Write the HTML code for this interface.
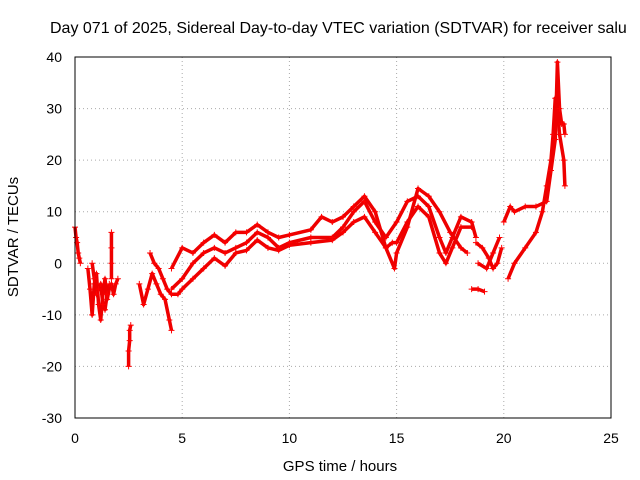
<!DOCTYPE html>
<html><head><meta charset="utf-8"><style>
body{margin:0;background:#fff}
svg{display:block;font-family:"Liberation Sans",sans-serif}
</style></head><body>
<svg id="chart" width="640" height="480">
<text x="50" y="33" font-size="16">Day 071 of 2025, Sidereal Day-to-day VTEC variation (SDTVAR) for receiver salu</text>
<g id="grid"></g><g id="ticks"></g><g id="series"></g>
<rect x="75" y="57" width="536" height="361" fill="none" stroke="#000"/>
<text x="340" y="471" font-size="15" text-anchor="middle">GPS time / hours</text>
<text x="18" y="237" font-size="15" text-anchor="middle" transform="rotate(-90 18 237)">SDTVAR / TECUs</text>
</svg>
<script>
const xTicks=[0,5,10,15,20,25];
const yTicks=[-30,-20,-10,0,10,20,30,40];
const track1=[[0,7],[0.05,5],[0.1,4],[0.15,2],[0.2,1],[0.25,0]];
const track2=[[0.6,-1],[0.7,-5],[0.8,-10],[0.9,-4],[1.0,-2],[1.1,-8],[1.2,-11],[1.3,-6],[1.4,-3],[1.5,-7],[1.6,-5],[1.7,-4],[1.8,-6],[1.9,-4],[2.0,-3]];
const track3=[[0.8,0],[0.9,-3],[1.0,-6],[1.1,-5],[1.2,-4],[1.3,-8],[1.4,-9],[1.5,-6],[1.6,-4]];
const track4=[[1.7,-3],[1.7,0],[1.7,3],[1.7,6]];
const track5=[[2.5,-20],[2.5,-17],[2.55,-15],[2.55,-13],[2.6,-12]];
const track6=[[3.0,-4],[3.2,-8],[3.4,-5],[3.6,-2],[3.8,-4],[4.0,-6],[4.2,-7],[4.4,-11],[4.5,-13]];
const track7=[[3.5,2],[3.7,0],[3.9,-1],[4.1,-3],[4.3,-5],[4.5,-6],[4.8,-6],[5.0,-5],[5.5,-3],[6.0,-1],[6.5,1],[7.0,-0.5],[7.5,2],[8.0,2.5],[8.5,4.5],[9.0,3],[9.5,2.5],[10,3.5],[11,4],[12,4.5],[12.5,6],[13,8],[13.5,9],[14,6],[14.5,3],[14.8,4],[15,4],[15.5,8],[16,11],[16.5,9],[17,2],[17.3,0],[17.6,3],[18,7],[18.5,7]];
const track8=[[4.5,-5],[5.0,-3],[5.5,0],[6.0,2],[6.5,3],[7.0,2],[7.5,3],[8.0,4],[8.5,6],[9.0,5],[9.5,3],[10,4],[11,5],[12,5],[12.5,7],[13,10],[13.5,12],[14,8],[14.5,5],[15,8],[15.5,12],[16,13],[16.5,11],[17,5],[17.3,2],[17.6,5],[18,9],[18.5,8],[18.7,5]];
const track9=[[4.5,-1],[5.0,3],[5.5,2],[6.0,4],[6.5,5.5],[7.0,4],[7.5,6],[8.0,6],[8.5,7.5],[9.0,6],[9.5,5],[10,5.5],[11,6.5],[11.5,9],[12,8],[12.5,9],[13,11],[13.5,13],[14,10],[14.5,3],[14.9,-1],[15,2],[15.5,7],[16,14.5],[16.5,13],[17,10],[17.5,6],[18,3],[18.3,2]];
const track10=[[18.5,-5],[18.8,-5],[19.1,-5.5]];
const track11=[[18.7,4],[19.0,3],[19.3,1],[19.5,-1],[19.7,0],[19.9,3]];
const track12=[[18.8,0],[19.2,-1],[19.5,2],[19.8,5]];
const track13=[[20.2,-3],[20.5,0],[21.0,3],[21.5,6],[21.8,10],[22.0,15],[22.2,20],[22.3,25],[22.4,32],[22.5,30],[22.6,25],[22.8,20],[22.85,15]];
const track14=[[20.0,8],[20.3,11],[20.5,10],[21.0,11],[21.5,11],[22.0,12],[22.2,18],[22.4,24],[22.5,39],[22.6,30],[22.7,27],[22.8,27],[22.85,25]];
const tracks=[track1,track2,track3,track4,track5,track6,track7,track8,track9,track10,track11,track12,track13,track14];
const X=t=>75+t*536/25, Y=v=>418-(v+30)*361/70;
const NS="http://www.w3.org/2000/svg";
const g=document.getElementById('grid'),tk=document.getElementById('ticks'),s=document.getElementById('series');
function mk(tag,attrs,parent){const e=document.createElementNS(NS,tag);for(const k in attrs)e.setAttribute(k,attrs[k]);parent.appendChild(e);return e;}
xTicks.forEach(t=>{
 if(t>0&&t<25){const l=mk('line',{x1:X(t),x2:X(t),y1:57,y2:418,stroke:'#aaa','stroke-dasharray':'1,3'},g);
 
 }
 const tx=mk('text',{x:X(t),y:443,'font-size':14,'text-anchor':'middle'},tk);tx.textContent=t;
 
 
});
yTicks.forEach(v=>{
 if(v>-30&&v<40){const l=mk('line',{x1:75,x2:611,y1:Y(v),y2:Y(v),stroke:'#aaa','stroke-dasharray':'1,3'},g);
 
 }
 const tx=mk('text',{x:62,y:Y(v)+5,'font-size':14,'text-anchor':'end'},tk);tx.textContent=v;
 
 
});
tracks.forEach(tr=>{
 const pl=mk('polyline',{points:tr.map(p=>X(p[0])+','+Y(p[1])).join(' '),fill:'none',stroke:'#e00','stroke-width':3.5,'stroke-linejoin':'round'},s);
 
 
 tr.forEach(p=>{
  const m=mk('path',{d:`M${X(p[0])-3},${Y(p[1])}h6M${X(p[0])},${Y(p[1])-3}v6`,stroke:'#f00','stroke-width':1},s);
  
  
 });
});
</script>
</body></html>
